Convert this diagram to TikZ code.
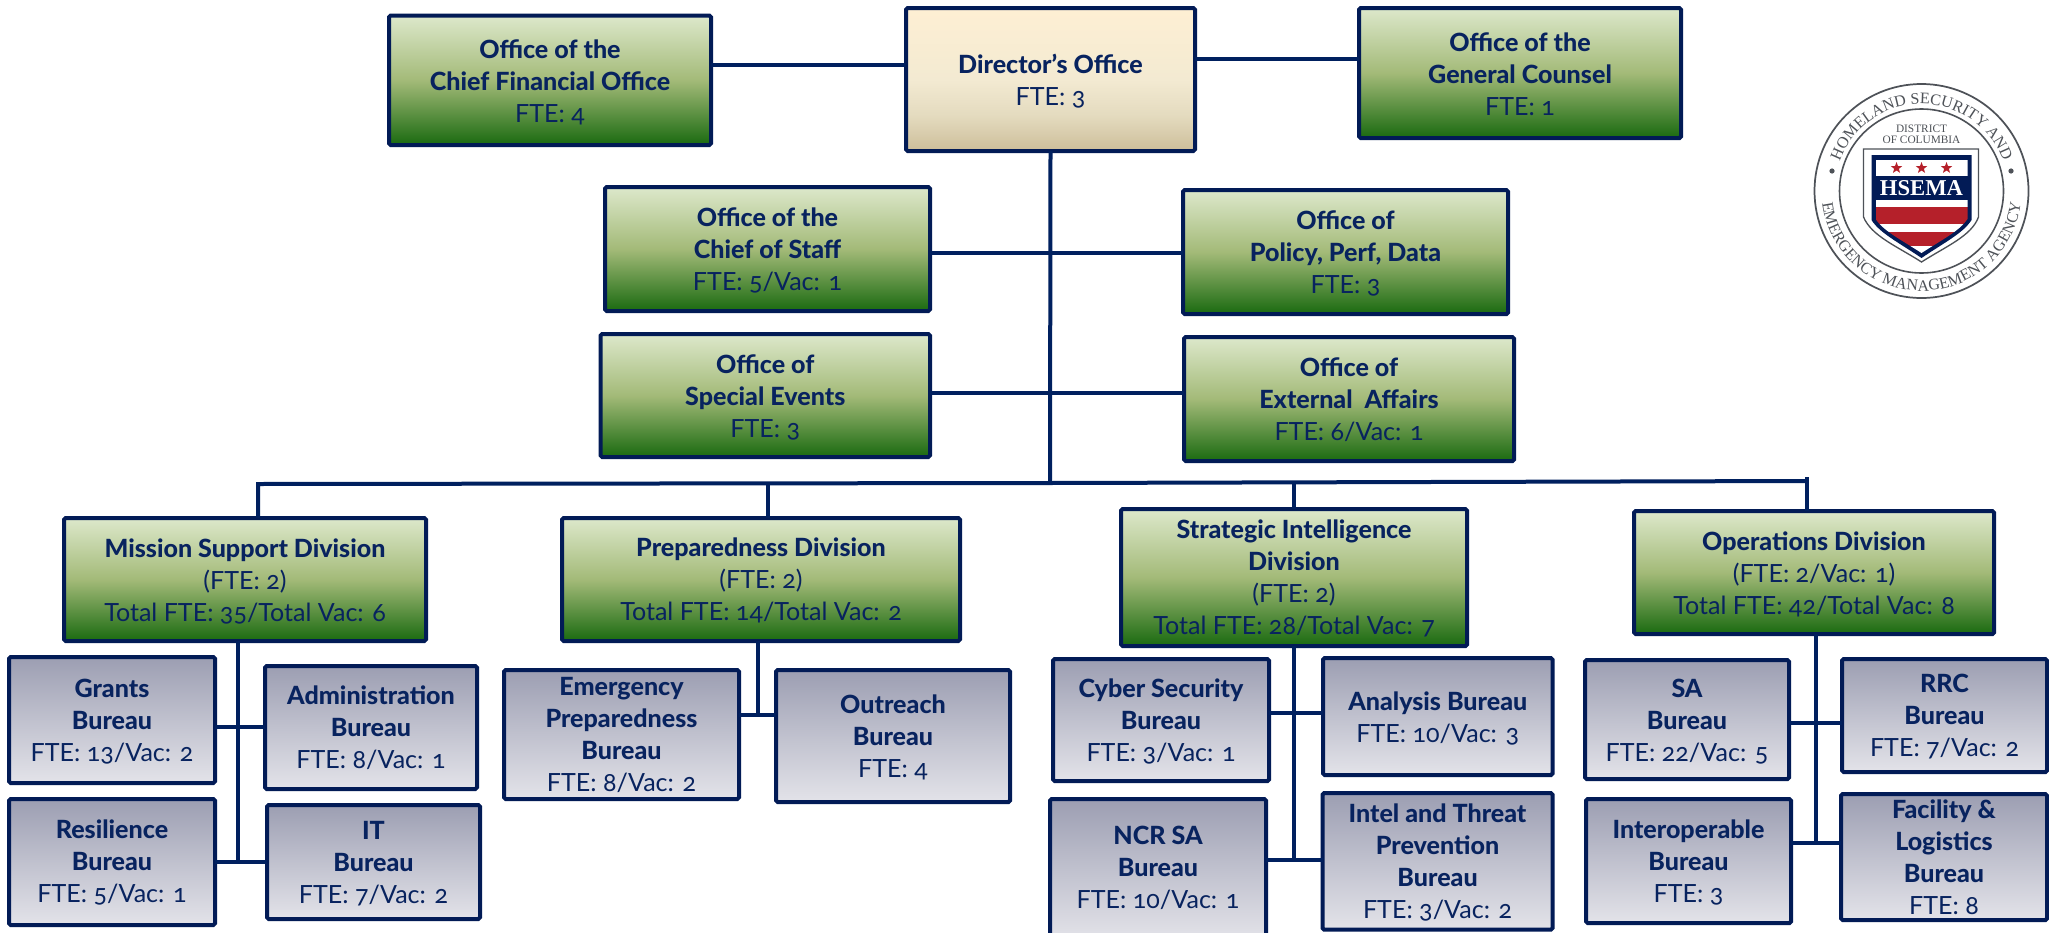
\documentclass[tikz,border=0pt]{standalone}
\usepackage{fontspec}
\usetikzlibrary{shapes.geometric,decorations.text}
\newfontfamily\fL[Numbers=OldStyle]{Lato}
\newfontfamily\fB[Numbers=OldStyle]{Lato Heavy}
\newfontfamily\lgf{Liberation Serif}
\definecolor{bord}{HTML}{021B56}
\definecolor{nv}{HTML}{00205F}
\definecolor{txt}{HTML}{08235F}
\definecolor{lg}{HTML}{4E5258}
\definecolor{lred}{HTML}{B5202A}
\definecolor{gB}{HTML}{1A6A10}\definecolor{gM}{HTML}{A3BA78}\definecolor{gT}{HTML}{DDE8CB}
\definecolor{sB}{HTML}{E3E3E9}\definecolor{sM}{HTML}{C0C1CE}\definecolor{sT}{HTML}{9C9EB2}
\definecolor{tB}{HTML}{CDBE9A}\definecolor{tA}{HTML}{E4DBBF}\definecolor{tM}{HTML}{F3EAD2}\definecolor{tT}{HTML}{FEEFD3}
\pgfdeclareverticalshading{grn}{100bp}{color(0bp)=(gB);color(25bp)=(gB);color(50bp)=(gM);color(75bp)=(gT);color(100bp)=(gT)}
\pgfdeclareverticalshading{slt}{100bp}{color(0bp)=(sB);color(25bp)=(sB);color(50bp)=(sM);color(75bp)=(sT);color(100bp)=(sT)}
\pgfdeclareverticalshading{tan}{100bp}{color(0bp)=(tB);color(25bp)=(tB);color(37.5bp)=(tA);color(50bp)=(tM);color(75bp)=(tT);color(100bp)=(tT)}
\tikzset{
  boxbase/.style={draw=bord,line width=3pt,rounded corners=1.2pt,inner sep=0pt,outer sep=0pt,shade},
  greenbox/.style={boxbase,shading=grn},
  slatebox/.style={boxbase,shading=slt},
  tanbox/.style={boxbase,shading=tan},
  boxtext/.style={inner sep=0pt,outer sep=0pt,align=center,text=txt,font=\fontsize{18}{24}\selectfont},
  conn/.style={draw=nv,line width=3pt},
}
\newcommand\stl{\rule[-6pt]{0pt}{24pt}}
\newcommand\Bt[1]{\stl{\fB\fontsize{18.8}{24}\selectfont #1}}
\newcommand\Lt[1]{\stl{\fL\fontsize{18.8}{24}\selectfont #1}}
% name, style, x1, y1, x2, y2, mean baseline, text
\newcommand\bx[8]{%
  \node[#2,minimum width={(#5-#3-4)*0.75pt},minimum height={(#6-#4-4)*0.75pt}] (#1) at ({(#3+#5)/2},{(#4+#6)/2}) {};
  \node[boxtext] (#1t) at ({(#3+#5)/2},{#7-8}) {#8};
}
\begin{document}
\begin{tikzpicture}[x=0.75pt,y=-0.75pt]
\path[use as bounding box,clip] (0,0) rectangle (2049,932);
\fill[white] (0,0) rectangle (2049,932);

\bx{dir}{tanbox}{904}{6}{1197}{153}{89}{\Bt{Director’s Office}\\\Lt{FTE: 3}}
\bx{cfo}{greenbox}{387}{13.5}{713}{147}{90.5}{\Bt{Office of the}\\\Bt{Chief Financial Office}\\\Lt{FTE: 4}}
\bx{gc}{greenbox}{1357}{6}{1683}{140}{83}{\Bt{Office of the}\\\Bt{General Counsel}\\\Lt{FTE: 1}}
\bx{cos}{greenbox}{603}{185}{932}{313}{258.7}{\Bt{Office of the}\\\Bt{Chief of Staff}\\\Lt{FTE: 5/Vac: 1}}
\bx{pol}{greenbox}{1181}{188}{1510}{316}{261}{\Bt{Office of}\\\Bt{Policy, Perf, Data}\\\Lt{FTE: 3}}
\bx{spe}{greenbox}{598.5}{332}{932}{459}{405}{\Bt{Office of}\\\Bt{Special Events}\\\Lt{FTE: 3}}
\bx{ext}{greenbox}{1182}{335}{1516}{463}{408}{\Bt{Office of}\\\Bt{External\ \ Affairs}\\\Lt{FTE: 6/Vac: 1}}

\bx{msd}{greenbox}{62}{516}{428}{643}{589}{\Bt{Mission Support Division}\\\Lt{(FTE: 2)}\\\Lt{Total FTE: 35/Total Vac: 6}}
\bx{prd}{greenbox}{560}{516}{962}{643}{588}{\Bt{Preparedness Division}\\\Lt{(FTE: 2)}\\\Lt{Total FTE: 14/Total Vac: 2}}
\bx{sid}{greenbox}{1119}{507}{1469}{648}{586}{\Bt{Strategic Intelligence}\\\Bt{Division}\\\Lt{(FTE: 2)}\\\Lt{Total FTE: 28/Total Vac: 7}}
\bx{opd}{greenbox}{1632}{509}{1996}{636}{582}{\Bt{Operations Division}\\\Lt{(FTE: 2/Vac: 1)}\\\Lt{Total FTE: 42/Total Vac: 8}}

\bx{gra}{slatebox}{7}{655}{217}{785}{729}{\Bt{Grants}\\\Bt{Bureau}\\\Lt{FTE: 13/Vac: 2}}
\bx{adm}{slatebox}{263}{664}{479}{791}{736.7}{\Bt{Administration}\\\Bt{Bureau}\\\Lt{FTE: 8/Vac: 1}}
\bx{res}{slatebox}{7}{797}{217}{927}{870.7}{\Bt{Resilience}\\\Bt{Bureau}\\\Lt{FTE: 5/Vac: 1}}
\bx{itb}{slatebox}{265}{803}{482}{921}{871}{\Bt{IT}\\\Bt{Bureau}\\\Lt{FTE: 7/Vac: 2}}

\bx{epb}{slatebox}{502}{668}{741}{801}{743}{\Bt{Emergency}\\\Bt{Preparedness}\\\Bt{Bureau}\\\Lt{FTE: 8/Vac: 2}}
\bx{out}{slatebox}{774}{668}{1012}{804}{745}{\Bt{Outreach}\\\Bt{Bureau}\\\Lt{FTE: 4}}

\bx{cyb}{slatebox}{1051}{657}{1271}{783}{729}{\Bt{Cyber Security}\\\Bt{Bureau}\\\Lt{FTE: 3/Vac: 1}}
\bx{ana}{slatebox}{1321}{656}{1554.5}{777}{726}{\Bt{Analysis Bureau}\\\Lt{FTE: 10/Vac: 3}}
\bx{ncr}{slatebox}{1048}{797}{1268}{942}{876}{\Bt{NCR SA}\\\Bt{Bureau}\\\Lt{FTE: 10/Vac: 1}}
\bx{int}{slatebox}{1320.6}{791}{1554.5}{931.7}{870}{\Bt{Intel and Threat}\\\Bt{Prevention}\\\Bt{Bureau}\\\Lt{FTE: 3/Vac: 2}}

\bx{sab}{slatebox}{1583}{658}{1791}{781}{729}{\Bt{SA}\\\Bt{Bureau}\\\Lt{FTE: 22/Vac: 5}}
\bx{rrc}{slatebox}{1840}{657}{2049}{774}{724}{\Bt{RRC}\\\Bt{Bureau}\\\Lt{FTE: 7/Vac: 2}}
\bx{iop}{slatebox}{1584}{797}{1793}{925}{870}{\Bt{Interoperable}\\\Bt{Bureau}\\\Lt{FTE: 3}}
\bx{fac}{slatebox}{1839}{792}{2049}{922}{866}{\Bt{Facility \&}\\\Bt{Logistics}\\\Bt{Bureau}\\\Lt{FTE: 8}}

% junction points
\coordinate (jcfo) at (800,65);
\coordinate (jgc) at (1280,59);
\coordinate (j1) at (1050,252.5);
\coordinate (j2) at (1050,393);
\coordinate (busL) at (258,484);
\coordinate (busP) at (767.5,483.5);
\coordinate (busM) at (1050,483);
\coordinate (busS) at (1294,482);
\coordinate (busR) at (1807,481);
\coordinate (busT) at (1807,477);

\draw[conn] (cfo.east |- jcfo) -- (dir.west |- jcfo);
\draw[conn] (dir.east |- jgc) -- (gc.west |- jgc);
\draw[conn] (dir.south) -- (busM);
\draw[conn] (cos.east |- j1) -- (pol.west |- j1);
\draw[conn] (spe.east |- j2) -- (ext.west |- j2);
\draw[conn] (msd.north -| busL) -- (busL) -- (busM) -- (busR);
\draw[conn] (busP) -- (prd.north -| busP);
\draw[conn] (busS) -- (sid.north -| busS);
\draw[conn] (busT) -- (opd.north -| busT);

% Mission Support
\coordinate (ma) at (238,727);\coordinate (mb) at (238,862);
\draw[conn] (msd.south -| ma) -- (mb);
\draw[conn] (gra.east |- ma) -- (adm.west |- ma);
\draw[conn] (res.east |- mb) -- (itb.west |- mb);
% Preparedness
\coordinate (pa) at (758,715);
\draw[conn] (prd.south -| pa) -- (pa);
\draw[conn] (epb.east |- pa) -- (out.west |- pa);
% Strategic
\coordinate (sa) at (1293.5,713);\coordinate (sb) at (1293.5,860);
\draw[conn] (sid.south -| sa) -- (sb);
\draw[conn] (cyb.east |- sa) -- (ana.west |- sa);
\draw[conn] (ncr.east |- sb) -- (int.west |- sb);
% Operations
\coordinate (oa) at (1816,723);\coordinate (ob) at (1816,843);
\draw[conn] (opd.south -| oa) -- (ob);
\draw[conn] (sab.east |- oa) -- (rrc.west |- oa);
\draw[conn] (iop.east |- ob) -- (fac.west |- ob);

% HSEMA seal
\begin{scope}[shift={(1921.5,191)},x=0.75pt,y=0.75pt]
  \draw[lg,line width=1.3pt] (0,0) circle[radius=107];
  \draw[lg,line width=1.2pt] (0,0) circle[radius=82];
  \fill[lg] (-89.5,20) circle[radius=2.6];
  \fill[lg] (89.5,20) circle[radius=2.6];
  \path[decorate,decoration={text along path,text align=center,text color=lg,
      text={|\lgf\fontsize{12}{12}\selectfont|HOMELAND SECURITY AND}}]
      (160:87) arc[start angle=160,end angle=20,radius=87];
  \path[decorate,decoration={text along path,text align=center,text color=lg,
      text={|\lgf\fontsize{12}{12}\selectfont|EMERGENCY MANAGEMENT AGENCY}}]
      (178:100) arc[start angle=178,end angle=362,radius=100];
  \node[text=lg,font=\lgf\fontsize{8.5}{9}\selectfont,inner sep=0pt] (lgA) at (0,62) {DISTRICT};
  \node[text=lg,font=\lgf\fontsize{8.5}{9}\selectfont,inner sep=0pt] (lgB) at (0,51) {OF COLUMBIA};
  \draw[lg,line width=1pt,fill=white] (-58,42) -- (57,42) -- (57,-26) .. controls (50,-45) and (25,-55) .. (0,-71) .. controls (-25,-55) and (-50,-45) .. (-58,-26) -- cycle;
  \fill[bord] (-50,36) -- (50,36) -- (50,-29) .. controls (42,-42) and (22,-52) .. (0,-67) .. controls (-22,-52) and (-42,-42) .. (-50,-29) -- cycle;
  \begin{scope}
    \clip (-46,31) -- (46,31) -- (46,-28) .. controls (38,-40) and (20,-49) .. (0,-62) .. controls (-20,-49) and (-38,-40) .. (-46,-28) -- cycle;
    \fill[white] (-46,31) rectangle (46,15);
    \fill[white] (-46,-9) rectangle (46,-16);
    \fill[lred] (-46,-16) rectangle (46,-33);
    \fill[white] (-46,-33) rectangle (46,-41);
    \fill[lred] (-46,-41) rectangle (46,-55);
    \fill[white] (-46,-55) rectangle (46,-65);
  \end{scope}
  \foreach \i/\sx in {a/-25,b/0,c/25}{
    \node[star,star points=5,star point ratio=2.4,fill=lred,inner sep=0pt,minimum size=9pt] (st\i) at (\sx,23) {};
  }
  \node[text=white,font=\lgf\bfseries\fontsize{17}{18}\selectfont,inner sep=0pt] (lgH) at (0,2.5) {HSEMA};
\end{scope}
\end{tikzpicture}
\end{document}
